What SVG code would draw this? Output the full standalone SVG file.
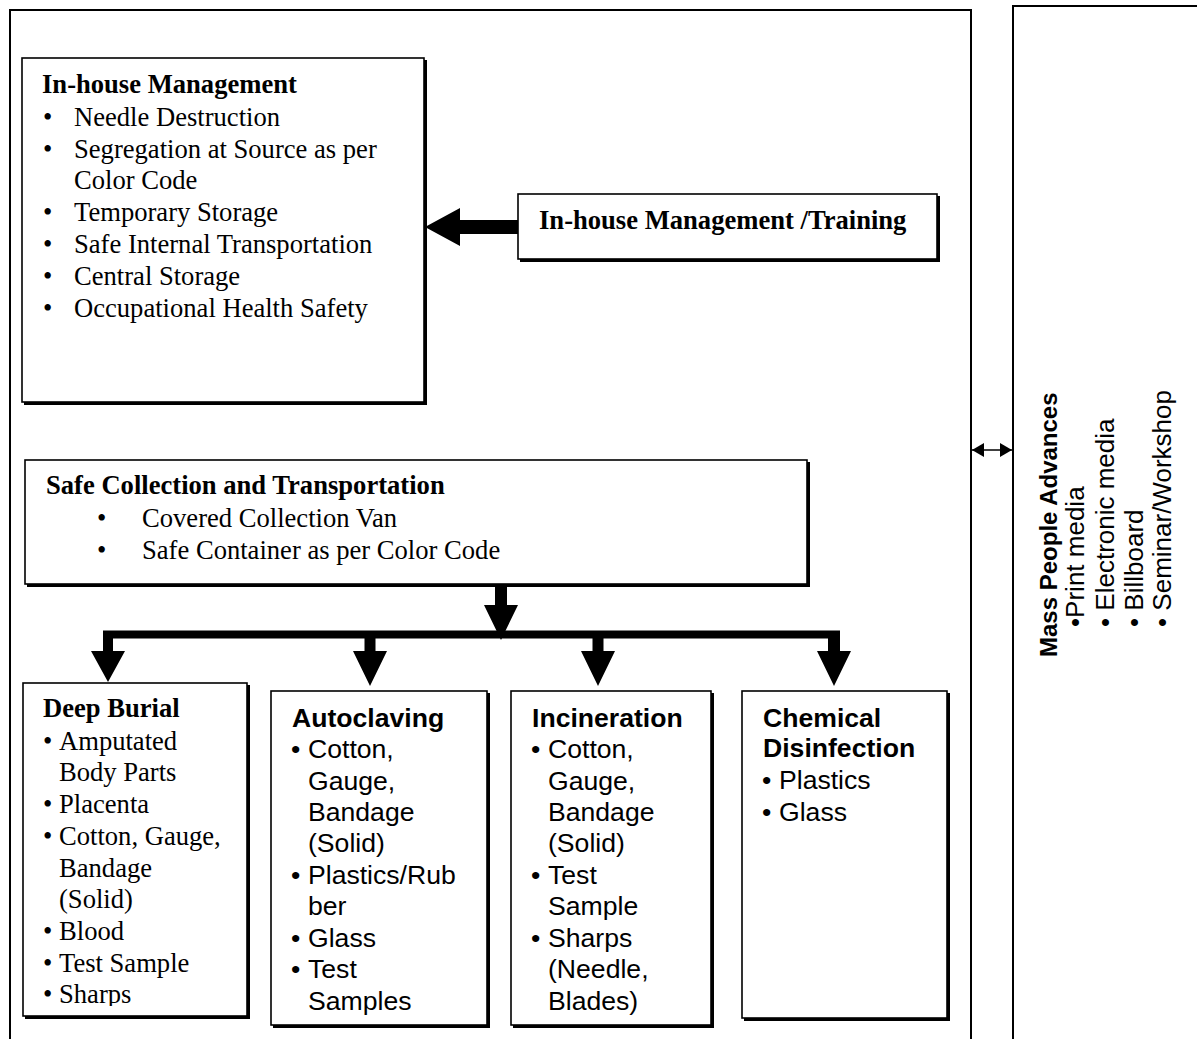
<svg xmlns="http://www.w3.org/2000/svg" width="1197" height="1039" viewBox="0 0 1197 1039">
  <style>
    .frame { fill: none; stroke: #000; stroke-width: 2; }
    .box { fill: #fff; stroke: #000; stroke-width: 1.6; }
    .shadow { fill: #000; }
    .tb { font-family: "Liberation Serif", "Times New Roman", serif; font-size: 26.6px; font-weight: bold; fill: #000; }
    .tr { font-family: "Liberation Serif", "Times New Roman", serif; font-size: 26.6px; fill: #000; }
    .ab { font-family: "Liberation Sans", Arial, sans-serif; font-size: 26.6px; font-weight: bold; fill: #000; }
    .ar { font-family: "Liberation Sans", Arial, sans-serif; font-size: 26.6px; fill: #000; }
    .vb { font-family: "Liberation Sans", Arial, sans-serif; font-size: 24px; font-weight: bold; fill: #000; }
    .vr { font-family: "Liberation Sans", Arial, sans-serif; font-size: 26px; fill: #000; }
    .arrow { fill: #000; }
  </style>
  <defs>
    <clipPath id="burialClip">
      <rect x="23" y="683" width="225" height="323"/>
    </clipPath>
    <marker id="tip" viewBox="0 0 12 14" refX="12" refY="7" markerWidth="12" markerHeight="14" markerUnits="userSpaceOnUse" orient="auto-start-reverse">
      <path d="M0,0 L12,7 L0,14 Z" fill="#000"/>
    </marker>
  </defs>

  <rect width="1197" height="1039" fill="#fff"/>

  <!-- outer frames -->
  <rect id="main-frame" class="frame" x="10" y="10" width="961" height="1040"/>
  <rect id="awareness-frame" class="frame" x="1013" y="6" width="200" height="1050"/>

  <!-- connectors -->
  <g id="connectors">
    <!-- training to in-house management -->
    <polygon class="arrow" points="425,227 460,208 460,220 518,220 518,234 460,234 460,246"/>
    <!-- collection to branch bar -->
    <polygon class="arrow" points="495,585 507,585 507,605 518,605 501,640 484,605 495,605"/>
    <!-- branch bar -->
    <rect class="arrow" x="103" y="630.5" width="737" height="8"/>
    <!-- branch arrows -->
    <polygon class="arrow" points="103,631 113,631 113,651 125,651 108,682 91,651 103,651"/>
    <polygon class="arrow" points="364.5,631 375.5,631 375.5,651 387,651 370,686 353,651 364.5,651"/>
    <polygon class="arrow" points="592.5,631 603.5,631 603.5,651 615,651 598,686 581,651 592.5,651"/>
    <polygon class="arrow" points="828,631 840,631 840,651 851,651 834,686 817,651 828,651"/>
    <!-- two-way link between frames -->
    <line x1="972" y1="450" x2="1012" y2="450" stroke="#000" stroke-width="1.6" marker-start="url(#tip)" marker-end="url(#tip)"/>
  </g>

  <!-- In-house Management -->
  <g id="inhouse">
    <rect class="shadow" x="24" y="60" width="403" height="345"/>
    <rect class="box" x="22" y="58" width="402" height="344"/>
    <text class="tb" x="42" y="93">In-house Management</text>
    <g class="tr">
      <text x="43" y="126">•</text><text x="74" y="126">Needle Destruction</text>
      <text x="43" y="158">•</text><text x="74" y="158">Segregation at Source as per</text>
      <text x="74" y="189">Color Code</text>
      <text x="43" y="221">•</text><text x="74" y="221">Temporary Storage</text>
      <text x="43" y="253">•</text><text x="74" y="253">Safe Internal Transportation</text>
      <text x="43" y="285">•</text><text x="74" y="285">Central Storage</text>
      <text x="43" y="317">•</text><text x="74" y="317">Occupational Health Safety</text>
    </g>
  </g>

  <!-- Training -->
  <g id="training">
    <rect class="shadow" x="520" y="196" width="420" height="66"/>
    <rect class="box" x="518" y="194" width="419" height="65"/>
    <text class="tb" x="539" y="229">In-house Management /Training</text>
  </g>

  <!-- Safe Collection and Transportation -->
  <g id="collection">
    <rect class="shadow" x="27" y="462" width="783" height="125"/>
    <rect class="box" x="25" y="460" width="782" height="124"/>
    <text class="tb" x="46" y="494">Safe Collection and Transportation</text>
    <g class="tr">
      <text x="97" y="527">•</text><text x="142" y="527">Covered Collection Van</text>
      <text x="97" y="559">•</text><text x="142" y="559">Safe Container as per Color Code</text>
    </g>
  </g>

  <!-- Deep Burial -->
  <g id="deep-burial">
    <rect class="shadow" x="25" y="685" width="225" height="334"/>
    <rect class="box" x="23" y="683" width="224" height="333"/>
    <g clip-path="url(#burialClip)">
      <text class="tb" x="43" y="717">Deep Burial</text>
      <g class="tr">
        <text x="43" y="750">•</text><text x="59" y="750">Amputated</text>
        <text x="59" y="781">Body Parts</text>
        <text x="43" y="813">•</text><text x="59" y="813">Placenta</text>
        <text x="43" y="845">•</text><text x="59" y="845">Cotton, Gauge,</text>
        <text x="59" y="877">Bandage</text>
        <text x="59" y="908">(Solid)</text>
        <text x="43" y="940">•</text><text x="59" y="940">Blood</text>
        <text x="43" y="972">•</text><text x="59" y="972">Test Sample</text>
        <text x="43" y="1003">•</text><text x="59" y="1003">Sharps</text>
      </g>
    </g>
  </g>

  <!-- Autoclaving -->
  <g id="autoclaving">
    <rect class="shadow" x="273" y="693" width="217" height="335"/>
    <rect class="box" x="271" y="691" width="216" height="334"/>
    <text class="ab" x="292" y="727">Autoclaving</text>
    <g class="ar">
      <text x="291" y="758">•</text><text x="308" y="758">Cotton,</text>
      <text x="308" y="790">Gauge,</text>
      <text x="308" y="821">Bandage</text>
      <text x="308" y="852">(Solid)</text>
      <text x="291" y="884">•</text><text x="308" y="884">Plastics/Rub</text>
      <text x="308" y="915">ber</text>
      <text x="291" y="947">•</text><text x="308" y="947">Glass</text>
      <text x="291" y="978">•</text><text x="308" y="978">Test</text>
      <text x="308" y="1010">Samples</text>
    </g>
  </g>

  <!-- Incineration -->
  <g id="incineration">
    <rect class="shadow" x="513" y="693" width="201" height="335"/>
    <rect class="box" x="511" y="691" width="200" height="334"/>
    <text class="ab" x="532" y="727">Incineration</text>
    <g class="ar">
      <text x="531" y="758">•</text><text x="548" y="758">Cotton,</text>
      <text x="548" y="790">Gauge,</text>
      <text x="548" y="821">Bandage</text>
      <text x="548" y="852">(Solid)</text>
      <text x="531" y="884">•</text><text x="548" y="884">Test</text>
      <text x="548" y="915">Sample</text>
      <text x="531" y="947">•</text><text x="548" y="947">Sharps</text>
      <text x="548" y="978">(Needle,</text>
      <text x="548" y="1010">Blades)</text>
    </g>
  </g>

  <!-- Chemical Disinfection -->
  <g id="chemical">
    <rect class="shadow" x="744" y="693" width="206" height="328"/>
    <rect class="box" x="742" y="691" width="205" height="327"/>
    <text class="ab" x="763" y="727">Chemical</text>
    <text class="ab" x="763" y="757">Disinfection</text>
    <g class="ar">
      <text x="762" y="789">•</text><text x="779" y="789">Plastics</text>
      <text x="762" y="821">•</text><text x="779" y="821">Glass</text>
    </g>
  </g>

  <!-- Mass People Advances -->
  <g id="mass-awareness">
    <text class="vb" transform="translate(1057,657) rotate(-90)">Mass People Advances</text>
    <text class="vr" transform="translate(1084,627) rotate(-90)">•Print media</text>
    <text class="vr" transform="translate(1114,627) rotate(-90)">• Electronic media</text>
    <text class="vr" transform="translate(1143,627) rotate(-90)">• Billboard</text>
    <text class="vr" transform="translate(1171,627) rotate(-90)">• Seminar/Workshop</text>
  </g>
</svg>
